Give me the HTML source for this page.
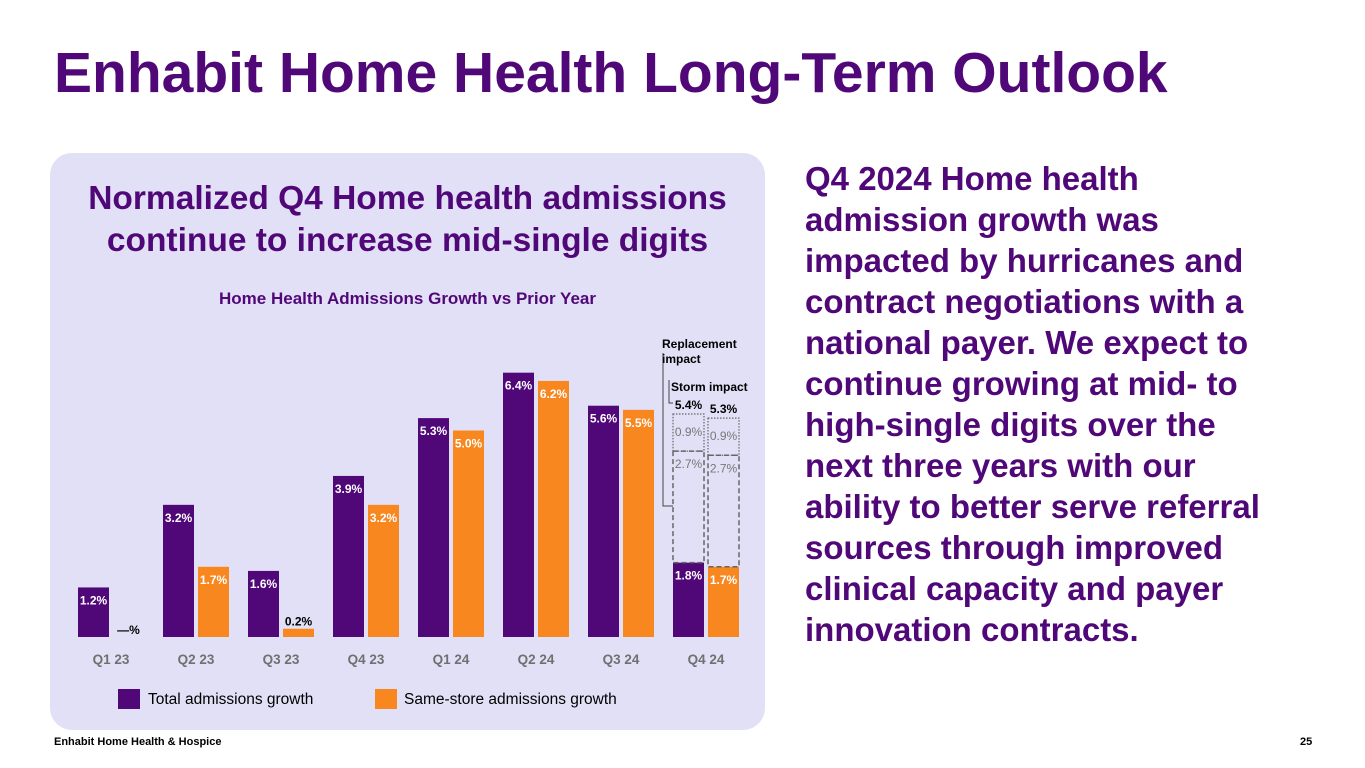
<!DOCTYPE html>
<html><head><meta charset="utf-8"><style>
body{margin:0;width:1365px;height:768px;background:#fff;font-family:"Liberation Sans",Arial,sans-serif;position:relative;overflow:hidden}
.abs{position:absolute}
h1{position:absolute;left:54px;top:40px;margin:0;font-size:57px;font-weight:bold;color:#500778;white-space:nowrap}
.card{left:50px;top:153px;width:715px;height:577px;background:#e2e0f6;border-radius:22px}
.ct{left:50px;top:178px;width:715px;text-align:center;font-size:33.5px;font-weight:bold;color:#500778;line-height:42px;white-space:nowrap}
.st{left:50px;top:289px;width:715px;text-align:center;font-size:17px;font-weight:bold;color:#500778}
.rt{left:805px;top:158px;width:485px;font-size:33px;font-weight:bold;color:#500778;line-height:41px}
.ft{font-size:11px;font-weight:bold;color:#000;top:736px}
</style></head><body>
<h1>Enhabit Home Health Long-Term Outlook</h1>
<div class="abs card"></div>
<div class="abs ct">Normalized Q4 Home health admissions<br>continue to increase mid-single digits</div>
<div class="abs st">Home Health Admissions Growth vs Prior Year</div>
<div class="abs rt">Q4 2024 Home health admission growth was impacted by hurricanes and contract negotiations with a national payer. We expect to continue growing at mid- to high-single digits over the next three years with our ability to better serve referral sources through improved clinical capacity and payer innovation contracts.</div>
<div class="abs ft" style="left:54px">Enhabit Home Health &amp; Hospice</div>
<div class="abs ft" style="left:1300px">25</div>
<svg class="abs" style="left:0;top:0" width="1365" height="768" id="chart"></svg>
<script>
const categories=["Q1 23","Q2 23","Q3 23","Q4 23","Q1 24","Q2 24","Q3 24","Q4 24"];
const totalGrowth=[1.2,3.2,1.6,3.9,5.3,6.4,5.6,1.8];
const sameStoreGrowth=[0,1.7,0.2,3.2,5.0,6.2,5.5,1.7];
const storm=[2.7,2.7];
const replacement=[0.9,0.9];
const normalizedLabels=["5.4%","5.3%"];
const PURPLE="#500778",ORANGE="#f7871e";
const svg=document.getElementById('chart');
const NS="http://www.w3.org/2000/svg";
const base=637,scale=41.3,x0=78,step=85,bw=31;
const y=v=>base-v*scale;
const gx=i=>x0+i*step;
function el(t,a,txt){const e=document.createElementNS(NS,t);for(const k in a)e.setAttribute(k,a[k]);if(txt!=null)e.textContent=txt;svg.appendChild(e);return e;}
categories.forEach((c,i)=>{
 const xp=gx(i),xo=xp+35;
 const r1=el('rect',{x:xp,y:y(totalGrowth[i]),width:bw,height:totalGrowth[i]*scale,fill:PURPLE});
 
 
 const r2=el('rect',{x:xo,y:y(sameStoreGrowth[i]),width:bw,height:sameStoreGrowth[i]*scale,fill:ORANGE});
 
 
 const t1=el('text',{x:xp+bw/2,y:y(totalGrowth[i])+17,'text-anchor':'middle','font-size':12,'font-weight':'bold',fill:'#fff'},totalGrowth[i].toFixed(1)+'%');
 
 
 const small=sameStoreGrowth[i]<0.5;
 const lbl=sameStoreGrowth[i]===0?'—%':sameStoreGrowth[i].toFixed(1)+'%';
 const t2=el('text',{x:xo+bw/2,y:small?y(sameStoreGrowth[i])-3:y(sameStoreGrowth[i])+17,'text-anchor':'middle','font-size':12,'font-weight':'bold',fill:small?'#000':'#fff'},lbl);
 
 
 const tc=el('text',{x:xp+33,y:664,'text-anchor':'middle','font-size':13.5,'font-weight':'bold',fill:'#707070'},c);
 
 
});
const li=categories.length-1;
[[gx(li),totalGrowth[li]],[gx(li)+35,sameStoreGrowth[li]]].forEach(([xx,b],k)=>{
 const s1=b+storm[k],s2=s1+replacement[k];
 const a=el('rect',{x:xx,y:y(s1),width:bw,height:storm[k]*scale,fill:'none',stroke:'#666','stroke-width':1.5,'stroke-dasharray':'5,3'});
 
 
 const bb=el('rect',{x:xx,y:y(s2),width:bw,height:replacement[k]*scale,fill:'none',stroke:'#666','stroke-width':1.2,'stroke-dasharray':'1.5,1.5'});
 
 
 const ta=el('text',{x:xx+bw/2,y:y(s1)+17,'text-anchor':'middle','font-size':12,fill:'#777'},storm[k].toFixed(1)+'%');
 
 
 const tb=el('text',{x:xx+bw/2,y:y(s2)+22,'text-anchor':'middle','font-size':12,fill:'#777'},replacement[k].toFixed(1)+'%');
 
 
 const tt=el('text',{x:xx+bw/2,y:y(s2)-5,'text-anchor':'middle','font-size':12,'font-weight':'bold',fill:'#000'},normalizedLabels[k]);
 
 
});
el('path',{d:'M663 353 L663 506 L673 506',fill:'none',stroke:'#444','stroke-width':1});
el('path',{d:'M669 380 L669 403 L673 403',fill:'none',stroke:'#444','stroke-width':1});
const rl=el('text',{x:662,y:348,'font-size':12,'font-weight':'bold',fill:'#000'});


rl.innerHTML='<tspan x="662" dy="0">Replacement</tspan><tspan x="662" dy="15">impact</tspan>';
const sl=el('text',{x:671,y:391,'font-size':12,'font-weight':'bold',fill:'#000'},'Storm impact');


const l1=el('rect',{x:118,y:689,width:22,height:20,fill:PURPLE});


const l1t=el('text',{x:148,y:704,'font-size':15.5,fill:'#000'},'Total admissions growth');


const l2=el('rect',{x:375,y:689,width:22,height:20,fill:ORANGE});


const l2t=el('text',{x:404,y:704,'font-size':15.5,fill:'#000'},'Same-store admissions growth');


</script>
</body></html>
